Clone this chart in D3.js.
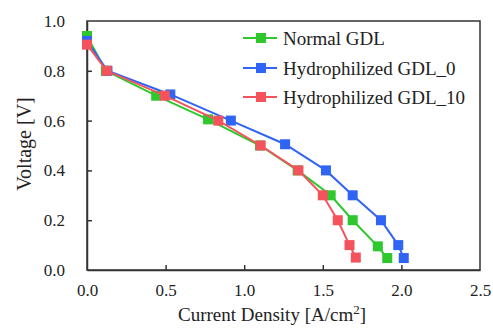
<!DOCTYPE html>
<html><head><meta charset="utf-8">
<script src="https://cdn.jsdelivr.net/npm/d3@7"></script>
<style>body{margin:0;background:#fff}svg{display:block}
text{font-family:"Liberation Serif","Times New Roman","DejaVu Serif",serif !important;}</style>
</head><body>
<svg id="c" width="493" height="328"></svg>
<script>
const seriesNames = ["Normal GDL", "Hydrophilized GDL_0", "Hydrophilized GDL_10"];
const seriesColors = ["#2ec82e", "#3064f4", "#f5535b"];
const normalX = [0.0, 0.12, 0.44, 0.77, 1.10, 1.34, 1.55, 1.69, 1.85, 1.91];
const normalY = [0.94, 0.80, 0.70, 0.605, 0.50, 0.40, 0.30, 0.20, 0.095, 0.048];
const hydro0X = [0.0, 0.13, 0.53, 0.915, 1.26, 1.52, 1.69, 1.87, 1.98, 2.015];
const hydro0Y = [0.92, 0.80, 0.705, 0.60, 0.505, 0.40, 0.30, 0.20, 0.10, 0.048];
const hydro10X = [0.0, 0.125, 0.495, 0.835, 1.105, 1.345, 1.50, 1.595, 1.67, 1.71];
const hydro10Y = [0.905, 0.80, 0.70, 0.60, 0.50, 0.40, 0.30, 0.20, 0.10, 0.05];
const xTicks = [0, 0.5, 1.0, 1.5, 2.0, 2.5];
const yTicks = [0, 0.2, 0.4, 0.6, 0.8, 1.0];

const svg = d3.select("#c");
const L = 87, R = 480, T = 21, B = 270;
const x = d3.scaleLinear().domain([0, 2.5]).range([L, R]);
const y = d3.scaleLinear().domain([0, 1.0]).range([B, T]);
const font = "Liberation Serif, DejaVu Serif, serif";
const axisCol = "#333";

svg.append("rect").attr("x", L).attr("y", T).attr("width", R - L).attr("height", B - T)
  .attr("fill", "none").attr("stroke", axisCol).attr("stroke-width", 1.5);

const xa = svg.append("g").attr("transform", `translate(0,${B})`)
  .call(d3.axisBottom(x).tickValues(xTicks).tickFormat(d3.format(".1f")).tickSizeInner(-5).tickSizeOuter(0).tickPadding(14));
const ya = svg.append("g").attr("transform", `translate(${L},0)`)
  .call(d3.axisLeft(y).tickValues(yTicks).tickFormat(d3.format(".1f")).tickSizeInner(-5).tickSizeOuter(0).tickPadding(22));
[xa, ya].forEach(g => {
  g.attr("font-family", null);
  g.select(".domain").attr("stroke", axisCol).attr("stroke-width", 1.5);
  g.selectAll(".tick line").attr("stroke", axisCol).attr("stroke-width", 1.5);
  g.selectAll(".tick text").style("font-family", font).attr("font-size", 17).attr("fill", "#222");
});
ya.selectAll(".tick line").filter(d => d === 0 || d === 1).remove();
xa.selectAll(".tick line").filter(d => d === 0 || d === 2.5).remove();

svg.append("text").attr("x", 272).attr("y", 321).attr("text-anchor", "middle")
  .style("font-family", font).attr("font-size", 19).attr("fill", "#222")
  .html('Current Density [A/cm<tspan dy="-7" font-size="13">2</tspan><tspan dy="7">]</tspan>');
svg.append("text").attr("transform", "translate(31,144) rotate(-90)").attr("text-anchor", "middle")
  .style("font-family", font).attr("font-size", 20).attr("fill", "#222").text("Voltage [V]");

const data = [
  {xs: normalX, ys: normalY},
  {xs: hydro0X, ys: hydro0Y},
  {xs: hydro10X, ys: hydro10Y}
];
const line = d3.line().x(d => x(d[0])).y(d => y(d[1]));
const ms = 10;
data.forEach((s, i) => {
  const pts = s.xs.map((v, j) => [v, s.ys[j]]);
  const g = svg.append("g");
  g.append("path").attr("d", line(pts)).attr("fill", "none")
    .attr("stroke", seriesColors[i]).attr("stroke-width", 2);
  g.selectAll("rect").data(pts).join("rect")
    .attr("x", d => x(d[0]) - ms / 2).attr("y", d => y(d[1]) - ms / 2)
    .attr("width", ms).attr("height", ms).attr("fill", seriesColors[i]);
});

const legY = [38, 68, 97];
seriesNames.forEach((n, i) => {
  const g = svg.append("g");
  g.append("line").attr("x1", 243).attr("x2", 277).attr("y1", legY[i]).attr("y2", legY[i])
    .attr("stroke", seriesColors[i]).attr("stroke-width", 2);
  g.append("rect").attr("x", 261 - ms / 2).attr("y", legY[i] - ms / 2).attr("width", ms).attr("height", ms)
    .attr("fill", seriesColors[i]);
  g.append("text").attr("x", 283).attr("y", legY[i]).attr("dy", "0.35em")
    .style("font-family", font).attr("font-size", 19).attr("fill", "#222").text(n);
});
</script>
</body></html>
